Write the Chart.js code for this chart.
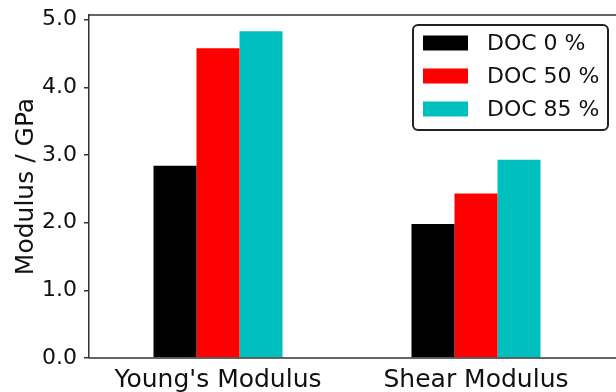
<!DOCTYPE html>
<html>
<head>
<meta charset="utf-8">
<script src="https://cdn.jsdelivr.net/npm/chart.js@4"></script>
<style>
  html, body { margin: 0; padding: 0; background: #ffffff; overflow: hidden; }
  #wrap { width: 616px; height: 392px; }
</style>
</head>
<body>
<div id="wrap"><canvas id="c" width="616" height="392"></canvas></div>
<script>
// Moduli measured for each degree of cure (GPa)
const categories = ["Young's Modulus", "Shear Modulus"];
const seriesLabels = ["DOC 0 %", "DOC 50 %", "DOC 85 %"];
const doc0 = [2.84, 1.98];
const doc50 = [4.58, 2.43];
const doc85 = [4.83, 2.93];
const yTicks = [0, 1, 2, 3, 4, 5];

const colors = ["#000000", "#ff0000", "#00bfbf"];
const FONT = "'DejaVu Sans', sans-serif";
const SPINE = "#333333";

// Top and bottom frame lines run to the right edge of the canvas
const framePlugin = {
  id: 'frame',
  afterDatasetsDraw(chart) {
    const { ctx, chartArea } = chart;
    ctx.save();
    ctx.strokeStyle = SPINE;
    ctx.lineWidth = 1.5;
    ctx.beginPath();
    ctx.moveTo(chartArea.left, chartArea.top);
    ctx.lineTo(chart.width, chartArea.top);
    ctx.moveTo(chartArea.left, chartArea.bottom);
    ctx.lineTo(chart.width, chartArea.bottom);
    ctx.stroke();
    ctx.restore();
  }
};

// Boxed legend in the upper right corner of the plot
const boxLegend = {
  id: 'boxLegend',
  afterDraw(chart) {
    const { ctx, chartArea } = chart;
    const right = chart.width - 8;
    const left = right - 195;
    const top = chartArea.top + 10;
    const height = 105;
    ctx.save();
    ctx.beginPath();
    ctx.roundRect(left, top, right - left, height, 5);
    ctx.fillStyle = '#ffffff';
    ctx.fill();
    ctx.lineWidth = 2;
    ctx.strokeStyle = '#222222';
    ctx.stroke();
    ctx.font = '22px ' + FONT;
    ctx.textBaseline = 'middle';
    ctx.textAlign = 'left';
    chart.data.datasets.forEach((ds, i) => {
      const cy = top + 18 + i * 33;
      ctx.fillStyle = ds.backgroundColor;
      ctx.fillRect(left + 10, cy - 7.5, 45, 15);
      ctx.fillStyle = '#111111';
      ctx.fillText(ds.label, left + 74, cy + 1);
    });
    ctx.restore();
  }
};

new Chart(document.getElementById('c'), {
  type: 'bar',
  data: {
    labels: categories,
    datasets: [
      { label: seriesLabels[0], data: doc0, backgroundColor: colors[0] },
      { label: seriesLabels[1], data: doc50, backgroundColor: colors[1] },
      { label: seriesLabels[2], data: doc85, backgroundColor: colors[2] }
    ]
  },
  options: {
    responsive: false,
    animation: false,
    devicePixelRatio: 1,
    layout: { padding: { top: 15, right: 11, left: 0, bottom: 0 } },
    datasets: { bar: { barPercentage: 1, categoryPercentage: 0.5, borderWidth: 0 } },
    plugins: { legend: { display: false }, tooltip: { enabled: false } },
    scales: {
      x: {
        grid: { display: false, drawTicks: false },
        border: { display: false },
        ticks: { color: '#111111', font: { family: FONT, size: 25 }, padding: 7, maxRotation: 0 },
        afterFit(scale) {
          scale.height = 34;
          scale.paddingLeft = 0;
          scale.paddingRight = 0;
        }
      },
      y: {
        min: 0,
        max: 5.07,
        afterBuildTicks(scale) { scale.ticks = yTicks.map(v => ({ value: v })); },
        grid: { display: true, drawOnChartArea: false, drawTicks: true, tickLength: 5, color: SPINE, lineWidth: 1.5 },
        border: { display: true, color: SPINE, width: 1.5 },
        ticks: {
          color: '#111111',
          font: { family: FONT, size: 22 },
          padding: 7,
          callback: v => Number(v).toFixed(1)
        },
        title: {
          display: true,
          text: 'Modulus / GPa',
          color: '#111111',
          font: { family: FONT, size: 25 },
          padding: { top: 11, bottom: 0 }
        },
        afterFit(scale) {
          scale.width = 89;
          scale.paddingTop = 0;
          scale.paddingBottom = 0;
        }
      }
    }
  },
  plugins: [framePlugin, boxLegend]
});
</script>
</body>
</html>
